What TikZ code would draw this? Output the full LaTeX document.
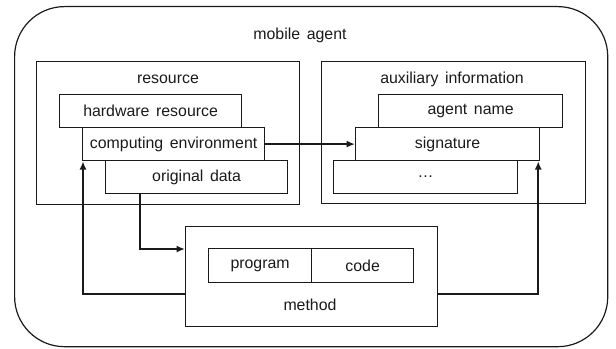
\documentclass[tikz,border=0pt]{standalone}
\usepackage{fontspec}
\setmainfont{Liberation Sans}[WordSpace=1.5]
\usetikzlibrary{arrows.meta}
\definecolor{Ink}{HTML}{1A1A1A}

\begin{document}
\begin{tikzpicture}[x=0.025cm,y=-0.025cm,font=\fontsize{11.3}{14}\selectfont,
  box/.style={draw=Ink,line width=0.85pt,anchor=north west,inner sep=0pt,minimum width=4.55cm,minimum height=0.825cm,text=Ink},
  frame/.style={box,minimum width=6.6cm,minimum height=3.55cm},
  title/.style={text=Ink,inner sep=1pt},
  flow/.style={draw=Ink,line width=1.4pt,-{Latex[length=6pt,width=5pt]}}]
  \useasboundingbox (0,0) rectangle (616,348);
  \node[box,rounded corners=1.25cm,minimum width=14.825cm,minimum height=8.5cm] (agent) at (14,6) {};
  \node[title] (agentlabel) at (300,35) {mobile agent};

  % resource side
  \node[frame,minimum width=6.575cm,minimum height=3.575cm] (resource) at (36,61) {};
  \node[title] (resourcelabel) at (168,79) {resource};
  \node[box] (hardware) at (59,94) {hardware resource};
  \node[box] (computing) at (82,127) {computing environment};
  \node[box] (original) at (105,160) {original data};

  % auxiliary information side
  \node[frame] (auxiliary) at (321,61) {};
  \node[title] (auxlabel) at (452,79) {auxiliary information};
  \node[box,minimum width=4.6cm] (agentname) at (378,94) {agent name};
  \node[box,minimum width=4.6cm] (signature) at (355,127) {signature};
  \node[box,minimum width=4.6cm] (more) at (333,160) {\dots};

  % method
  \node[box,minimum width=6.3cm,minimum height=2.5cm] (method) at (185,226) {};
  \node[title] (methodlabel) at (310,305) {method};
  \node[box,minimum width=2.575cm,minimum height=0.85cm] (program) at (208,248) {program};
  \node[box,minimum width=2.55cm,minimum height=0.85cm] (code) at (311,248) {code};

  \draw[flow] (computing.east) -- (signature.west);
  \draw[flow] ([xshift=0.875cm]original.south west) |- ([yshift=-0.575cm]method.north west);
  \draw[flow] ([yshift=0.825cm]method.south west) -| ([xshift=0.025cm]computing.south west);
  \draw[flow] ([yshift=0.825cm]method.south east) -| ([xshift=-0.05cm]signature.south east);
\end{tikzpicture}
\end{document}
